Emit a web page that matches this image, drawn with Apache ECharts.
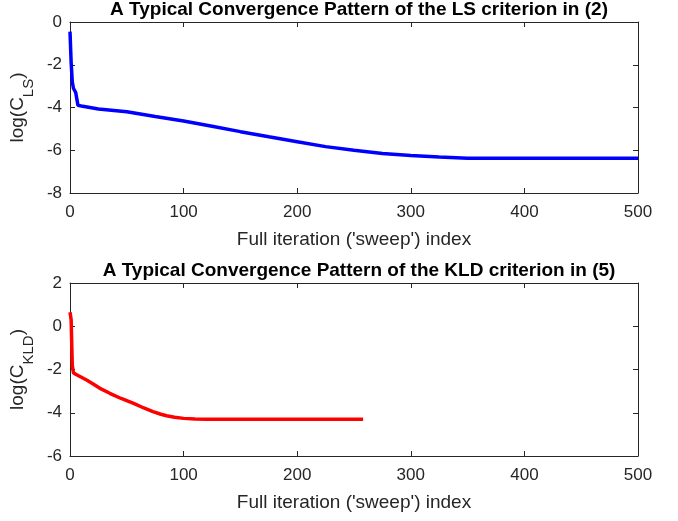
<!DOCTYPE html>
<html>
<head>
<meta charset="utf-8">
<script src="https://cdn.jsdelivr.net/npm/echarts@6/dist/echarts.min.js"></script>
<style>
html,body{margin:0;padding:0;background:#fff;}
#c{width:678px;height:521px;}
</style>
</head>
<body>
<div id="c"></div>
<script>
// ---- data ----
const lsIter = [0, 1, 2, 3, 5, 7, 10, 25, 50, 75, 100, 125, 150, 175, 200, 225, 250, 275, 300, 325, 350, 400, 450, 500];
const lsLog  = [-0.45, -1.9, -2.8, -3.1, -3.3, -3.9, -3.93, -4.07, -4.2, -4.42, -4.63, -4.88, -5.13, -5.37, -5.6, -5.83, -6.0, -6.15, -6.25, -6.32, -6.37, -6.38, -6.38, -6.38];
const kldIter = [0, 1, 2, 3, 5, 10, 15, 20, 26, 35, 45, 56, 65, 73, 80, 85, 92, 100, 110, 120, 150, 200, 258];
const kldLog  = [0.65, 0.3, -1.8, -2.15, -2.22, -2.36, -2.5, -2.66, -2.86, -3.1, -3.34, -3.57, -3.78, -3.95, -4.07, -4.14, -4.21, -4.26, -4.29, -4.3, -4.3, -4.3, -4.3];
const xTicks = [0, 100, 200, 300, 400, 500];
const titles = ['A Typical Convergence Pattern of the LS criterion in (2)', 'A Typical Convergence Pattern of the KLD criterion in (5)'];
const xName = "Full iteration ('sweep') index";

const FONT = '"Liberation Sans", Arial, Helvetica, sans-serif';
const AX = '#262626';

function pairs(xs, ys){ return xs.map((x,i)=>[x, ys[i]]); }

function xAx(grid, pos, labels){
  return {
    type:'value', gridIndex:grid, position:pos, min:0, max:500, interval:100,
    axisLine:{show:true, onZero:false, lineStyle:{color:AX, width:1}},
    axisTick:{show:true, inside:true, length:5, lineStyle:{color:AX}},
    axisLabel:{show:labels, color:AX, fontSize:17, fontFamily:FONT, margin:11},
    splitLine:{show:false},
    name: labels ? xName : '', nameLocation:'middle', nameGap:37,
    nameTextStyle:{color:AX, fontSize:19, fontFamily:FONT}
  };
}
function yAx(grid, pos, labels, min, max, sub){
  return {
    type:'value', gridIndex:grid, position:pos, min:min, max:max, interval:2,
    axisLine:{show:true, onZero:false, lineStyle:{color:AX, width:1}},
    axisTick:{show:true, inside:true, length:5, lineStyle:{color:AX}},
    axisLabel:{show:labels, color:AX, fontSize:17, fontFamily:FONT, margin:8},
    splitLine:{show:false},
    name: labels ? '{m|log(C}{s|' + sub + '}{m|)}' : '', nameLocation:'middle', nameGap:27, nameRotate:90,
    nameTextStyle:{color:AX, fontSize:19, fontFamily:FONT,
      rich:{
        m:{fontSize:19, fontFamily:FONT, color:AX, lineHeight:22, verticalAlign:'top'},
        s:{fontSize:15, fontFamily:FONT, color:AX, lineHeight:16, padding:[13,0,0,0], verticalAlign:'top'}
      }}
  };
}

const chart = echarts.init(document.getElementById('c'), null, {renderer:'canvas'});
chart.setOption({
  backgroundColor:'#fff',
  animation:false,
  title:[
    {text:titles[0], left:354, textAlign:'center', top:-5, textStyle:{fontSize:19, fontWeight:'bold', color:'#000', fontFamily:FONT}},
    {text:titles[1], left:354, textAlign:'center', top:256, textStyle:{fontSize:19, fontWeight:'bold', color:'#000', fontFamily:FONT}}
  ],
  grid:[
    {left:70, right:40, top:22, height:171},
    {left:70, right:40, top:283, height:173}
  ],
  xAxis:[ xAx(0,'bottom',true), xAx(0,'top',false), xAx(1,'bottom',true), xAx(1,'top',false) ],
  yAxis:[ yAx(0,'left',true,-8,0,'LS'), yAx(0,'right',false,-8,0,''), yAx(1,'left',true,-6,2,'KLD'), yAx(1,'right',false,-6,2,'') ],
  series:[
    {type:'line', xAxisIndex:0, yAxisIndex:0, data:pairs(lsIter, lsLog), showSymbol:false, smooth:false,
     lineStyle:{color:'#0000ff', width:3.5}, z:3},
    {type:'line', xAxisIndex:2, yAxisIndex:2, data:pairs(kldIter, kldLog), showSymbol:false, smooth:false,
     lineStyle:{color:'#ff0000', width:3.5}, z:3}
  ]
});
</script>
</body>
</html>
